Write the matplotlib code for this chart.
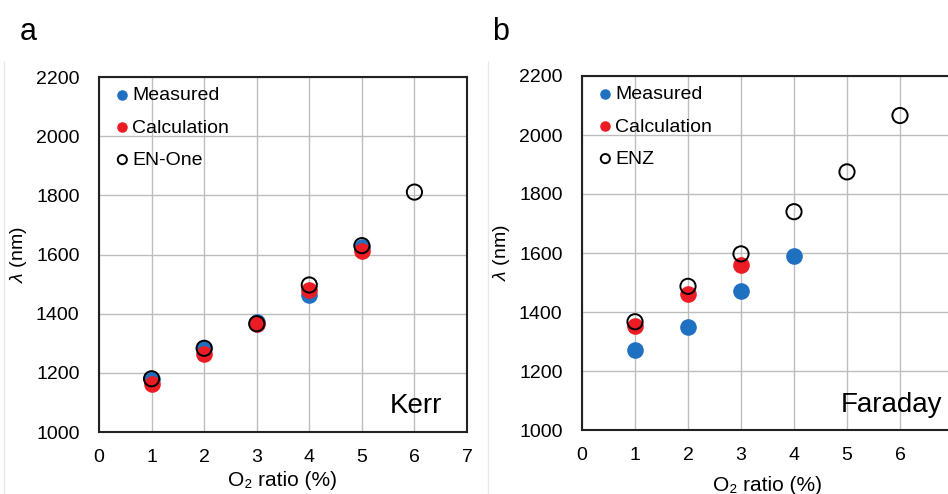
import matplotlib
matplotlib.use("Agg")
import matplotlib.pyplot as plt
from matplotlib.lines import Line2D

plt.rcParams['font.family'] = ['Liberation Sans', 'DejaVu Sans']
plt.rcParams['mathtext.fontset'] = 'custom'
plt.rcParams['mathtext.it'] = 'Liberation Sans:italic'
plt.rcParams['mathtext.rm'] = 'Liberation Sans'

# Panel a (Kerr)
kerr_x = [1, 2, 3, 4, 5]
kerr_measured = [1180, 1285, 1372, 1462, 1625]
kerr_calc = [1163, 1264, 1366, 1480, 1612]
enone_x = [1, 2, 3, 4, 5, 6]
enone_vals = [1180, 1283, 1366, 1497, 1630, 1811]

# Panel b (Faraday)
far_meas_x = [1, 2, 3, 4]
far_measured = [1270, 1350, 1470, 1590]
far_calc_x = [1, 2, 3]
far_calc = [1352, 1460, 1560]
enz_x = [1, 2, 3, 4, 5, 6]
enz_vals = [1367, 1487, 1597, 1740, 1875, 2066]

xticks = [0, 1, 2, 3, 4, 5, 6, 7]
yticks = [1000, 1200, 1400, 1600, 1800, 2000, 2200]

BLUE = '#1f70c1'
RED = '#ec1c24'

W, H = 948, 494
fig = plt.figure(figsize=(W / 100, H / 100), dpi=100)

# faint panel separators
fig.add_artist(Line2D([4 / W, 4 / W], [0, 1 - 62 / H], color='#e8e8e8', lw=1))
fig.add_artist(Line2D([488 / W, 488 / W], [0, 1 - 62 / H], color='#e8e8e8', lw=1))

def make_axes(rect):
    ax = fig.add_axes(rect)
    ax.set_xlim(0, 7)
    ax.set_ylim(1000, 2200)
    ax.set_xticks(xticks)
    ax.set_yticks(yticks)
    ax.grid(True, color='#bdbdbd', lw=1.0)
    ax.set_axisbelow(True)
    ax.tick_params(length=0, labelsize=14, pad=12)
    ax.tick_params(axis='y', pad=14)
    for s in ax.spines.values():
        s.set_linewidth(1.5)
        s.set_color('#222222')
    ax.set_ylabel(r'$\lambda$ (nm)', fontsize=14, labelpad=5)
    return ax

ms = 120
# Panel a
axa = make_axes([99 / W, 1 - 432 / H, 368 / W, 355 / H])
axa.scatter(kerr_x, kerr_measured, s=ms, color=BLUE, label='Measured', zorder=3, clip_on=False)
axa.scatter(kerr_x, kerr_calc, s=ms, color=RED, label='Calculation', zorder=4, clip_on=False)
axa.scatter(enone_x, enone_vals, s=ms, facecolors='none', edgecolors='black', linewidths=1.4,
            label='EN-One', zorder=5, clip_on=False)
axa.set_xlabel('O\u2082 ratio (%)', fontsize=15, labelpad=4)
axa.text(0.932, 0.054, 'Kerr', transform=axa.transAxes, fontsize=20, ha='right', va='baseline')
axa.legend(loc='upper left', frameon=False, fontsize=14, markerscale=0.6, handletextpad=-0.2,
           labelspacing=0.75, borderaxespad=0.2, borderpad=0.3, handlelength=1.4)

# Panel b
axb = make_axes([582 / W, 1 - 430 / H, 371 / W, 354 / H])
axb.scatter(far_meas_x, far_measured, s=ms, color=BLUE, label='Measured', zorder=3)
axb.scatter(far_calc_x, far_calc, s=ms, color=RED, label='Calculation', zorder=4)
axb.scatter(enz_x, enz_vals, s=ms, facecolors='none', edgecolors='black', linewidths=1.4,
            label='ENZ', zorder=5)
axb.set_xlabel('O\u2082 ratio (%)', fontsize=15, labelpad=9)
axb.text(0.970, 0.05, 'Faraday', transform=axb.transAxes, fontsize=20, ha='right', va='baseline')
axb.legend(loc='upper left', frameon=False, fontsize=14, markerscale=0.6, handletextpad=-0.2,
           labelspacing=0.75, borderaxespad=0.2, borderpad=0.3, handlelength=1.4)

fig.text(20 / W, 1 - 40 / H, 'a', fontsize=22)
fig.text(492 / W, 1 - 40 / H, 'b', fontsize=22)

fig.savefig('out.png', dpi=100)
